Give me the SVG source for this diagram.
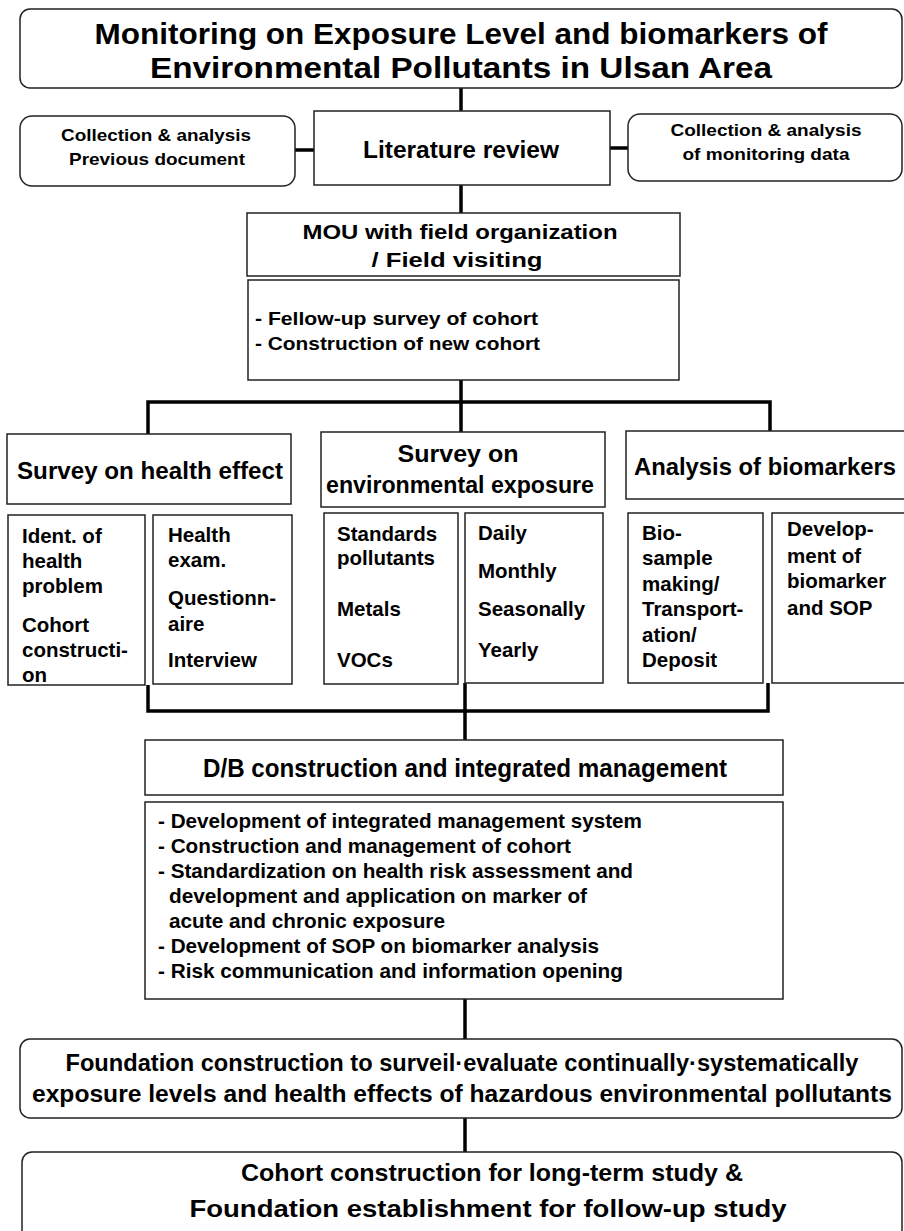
<svg xmlns="http://www.w3.org/2000/svg" width="904" height="1231" viewBox="0 0 904 1231">
<style>
.box{fill:#fff;stroke:#222;stroke-width:1.5}
.ln{stroke:#000;stroke-width:3.5;fill:none}
text{font-family:"Liberation Sans",Arial,sans-serif;font-weight:bold;fill:#000}
.c{text-anchor:middle}
.t1{font-size:30px}
.t2{font-size:17px}
.t3{font-size:24px}
.t4{font-size:20.5px}
.t5{font-size:18px}
.t6{font-size:20px}
</style>
<rect width="904" height="1231" fill="#fff"/>
<g id="connectors">
<path class="ln" d="M461 88V111"/>
<path class="ln" d="M295 150H314M610 148H628"/>
<path class="ln" d="M461 185V213"/>
<path class="ln" d="M461 380V402"/>
<path class="ln" d="M148 434V402H770V431M461 402V432"/>
<path class="ln" d="M148 685V711H768V683M465 683V740"/>
<path class="ln" d="M465 999V1039"/>
<path class="ln" d="M465 1118V1152"/>
</g>
<g id="title">
<rect class="box" x="20" y="9" width="882" height="79" rx="10"/>
<text class="c t1" x="461" y="44" textLength="733" lengthAdjust="spacingAndGlyphs">Monitoring on Exposure Level and biomarkers of</text>
<text class="c t1" x="461" y="78" textLength="622" lengthAdjust="spacingAndGlyphs">Environmental Pollutants in Ulsan Area</text>
</g>
<g id="prev-doc">
<rect class="box" x="20" y="116" width="275" height="70" rx="12"/>
<text class="c t2" x="156" y="141" textLength="190" lengthAdjust="spacingAndGlyphs">Collection &amp; analysis</text>
<text class="c t2" x="157" y="165" textLength="176" lengthAdjust="spacingAndGlyphs">Previous document</text>
</g>
<g id="literature">
<rect class="box" x="314" y="111" width="296" height="74"/>
<text class="c t3" x="461" y="158" textLength="196" lengthAdjust="spacingAndGlyphs">Literature review</text>
</g>
<g id="monitoring-data">
<rect class="box" x="628" y="114" width="274" height="67" rx="12"/>
<text class="c t2" x="766" y="136" textLength="191" lengthAdjust="spacingAndGlyphs">Collection &amp; analysis</text>
<text class="c t2" x="766" y="160" textLength="167" lengthAdjust="spacingAndGlyphs">of monitoring data</text>
</g>
<g id="mou">
<rect class="box" x="247" y="213" width="433" height="63"/>
<text class="c t6" x="460" y="239" textLength="315" lengthAdjust="spacingAndGlyphs">MOU with field organization</text>
<text class="c t6" x="457" y="267" textLength="171" lengthAdjust="spacingAndGlyphs">/ Field visiting</text>
</g>
<g id="cohort-survey">
<rect class="box" x="248" y="280" width="431" height="100"/>
<text class="t5" x="255" y="325" textLength="283" lengthAdjust="spacingAndGlyphs">- Fellow-up survey of cohort</text>
<text class="t5" x="255" y="350" textLength="285" lengthAdjust="spacingAndGlyphs">- Construction of new cohort</text>
</g>
<g id="health-effect">
<rect class="box" x="7" y="434" width="284" height="70"/>
<text class="c t3" x="150" y="479" textLength="266" lengthAdjust="spacingAndGlyphs">Survey on health effect</text>
</g>
<g id="env-exposure">
<rect class="box" x="321" y="432" width="284" height="75"/>
<text class="c t3" x="458" y="462" textLength="121" lengthAdjust="spacingAndGlyphs">Survey on</text>
<text class="c t3" x="460" y="493" textLength="268" lengthAdjust="spacingAndGlyphs">environmental exposure</text>
</g>
<g id="biomarkers">
<rect class="box" x="626" y="431" width="280" height="68"/>
<text class="c t3" x="765" y="475" textLength="262" lengthAdjust="spacingAndGlyphs">Analysis of biomarkers</text>
</g>
<g id="ident">
<rect class="box" x="8" y="515" width="137" height="170"/>
<text class="t4" x="22" y="543">Ident. of</text>
<text class="t4" x="22" y="568">health</text>
<text class="t4" x="22" y="593">problem</text>
<text class="t4" x="22" y="632">Cohort</text>
<text class="t4" x="22" y="657">constructi-</text>
<text class="t4" x="22" y="682">on</text>
</g>
<g id="health-exam">
<rect class="box" x="153" y="515" width="139" height="169"/>
<text class="t4" x="168" y="542">Health</text>
<text class="t4" x="168" y="567">exam.</text>
<text class="t4" x="168" y="605">Questionn-</text>
<text class="t4" x="168" y="631">aire</text>
<text class="t4" x="168" y="667">Interview</text>
</g>
<g id="pollutants">
<rect class="box" x="324" y="513" width="134" height="171"/>
<text class="t4" x="337" y="541">Standards</text>
<text class="t4" x="337" y="565">pollutants</text>
<text class="t4" x="337" y="616">Metals</text>
<text class="t4" x="337" y="667">VOCs</text>
</g>
<g id="frequency">
<rect class="box" x="465" y="513" width="138" height="170"/>
<text class="t4" x="478" y="540">Daily</text>
<text class="t4" x="478" y="578">Monthly</text>
<text class="t4" x="478" y="616">Seasonally</text>
<text class="t4" x="478" y="657">Yearly</text>
</g>
<g id="biosample">
<rect class="box" x="628" y="513" width="135" height="170"/>
<text class="t4" x="642" y="540">Bio-</text>
<text class="t4" x="642" y="565">sample</text>
<text class="t4" x="642" y="591">making/</text>
<text class="t4" x="642" y="616">Transport-</text>
<text class="t4" x="642" y="642">ation/</text>
<text class="t4" x="642" y="667">Deposit</text>
</g>
<g id="biomarker-sop">
<rect class="box" x="772" y="513" width="134" height="170"/>
<text class="t4" x="787" y="536">Develop-</text>
<text class="t4" x="787" y="563">ment of</text>
<text class="t4" x="787" y="588">biomarker</text>
<text class="t4" x="787" y="615">and SOP</text>
</g>
<g id="db">
<rect class="box" x="145" y="740" width="638" height="55"/>
<text class="c t3" x="465" y="777" style="font-size:25px" textLength="524" lengthAdjust="spacingAndGlyphs">D/B construction and integrated management</text>
</g>
<g id="db-list">
<rect class="box" x="145" y="802" width="638" height="197"/>
<text class="t4" x="158" y="828" textLength="484" lengthAdjust="spacingAndGlyphs">- Development of integrated management system</text>
<text class="t4" x="158" y="853" textLength="413" lengthAdjust="spacingAndGlyphs">- Construction and management of cohort</text>
<text class="t4" x="158" y="878" textLength="475" lengthAdjust="spacingAndGlyphs">- Standardization on health risk assessment and</text>
<text class="t4" x="169" y="903" textLength="418" lengthAdjust="spacingAndGlyphs">development and application on marker of</text>
<text class="t4" x="169" y="928" textLength="276" lengthAdjust="spacingAndGlyphs">acute and chronic exposure</text>
<text class="t4" x="158" y="953" textLength="441" lengthAdjust="spacingAndGlyphs">- Development of SOP on biomarker analysis</text>
<text class="t4" x="158" y="978" textLength="465" lengthAdjust="spacingAndGlyphs">- Risk communication and information opening</text>
</g>
<g id="foundation">
<rect class="box" x="20" y="1039" width="882" height="79" rx="10"/>
<text class="c t3" x="462" y="1071" style="font-size:23px" textLength="793" lengthAdjust="spacingAndGlyphs">Foundation construction to surveil·evaluate continually·systematically</text>
<text class="c t3" x="462" y="1102" style="font-size:23px" textLength="860" lengthAdjust="spacingAndGlyphs">exposure levels and health effects of hazardous environmental pollutants</text>
</g>
<g id="long-term">
<rect class="box" x="22" y="1152" width="880" height="95" rx="10"/>
<text class="c t3" x="492" y="1181" textLength="502" lengthAdjust="spacingAndGlyphs">Cohort construction for long-term study &amp;</text>
<text class="c t3" x="488" y="1217" textLength="597" lengthAdjust="spacingAndGlyphs">Foundation establishment for follow-up study</text>
</g>
</svg>
